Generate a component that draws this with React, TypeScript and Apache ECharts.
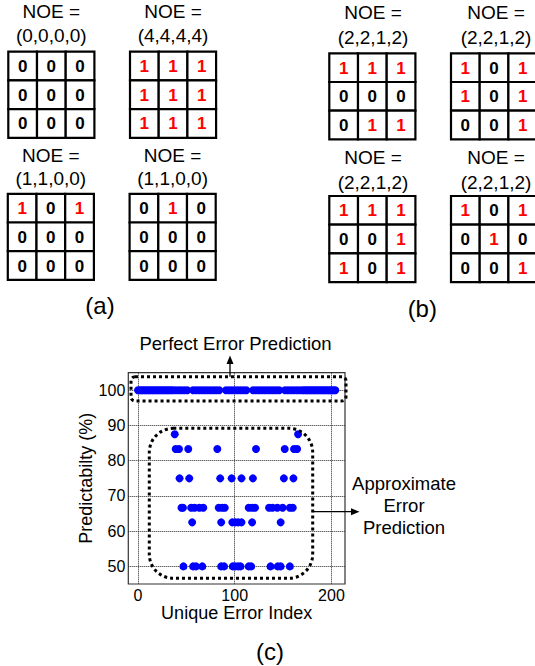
import React, { useEffect, useRef } from 'react';
import * as echarts from 'echarts';

const FONT = '"Liberation Sans", Arial, Helvetica, sans-serif';

// ---------- Panels (a) and (b): NOE grids ----------
const noeTitle = 'NOE =';
const noeLabels = ['(0,0,0,0)', '(4,4,4,4)', '(1,1,0,0)', '(1,1,0,0)', '(2,2,1,2)', '(2,2,1,2)', '(2,2,1,2)', '(2,2,1,2)'];
const matrixA1 = [[0, 0, 0], [0, 0, 0], [0, 0, 0]];
const matrixA2 = [[1, 1, 1], [1, 1, 1], [1, 1, 1]];
const matrixA3 = [[1, 0, 1], [0, 0, 0], [0, 0, 0]];
const matrixA4 = [[0, 1, 0], [0, 0, 0], [0, 0, 0]];
const matrixB1 = [[1, 1, 1], [0, 0, 0], [0, 1, 1]];
const matrixB2 = [[1, 0, 1], [1, 0, 1], [0, 0, 1]];
const matrixB3 = [[1, 1, 1], [0, 0, 1], [1, 0, 1]];
const matrixB4 = [[1, 0, 1], [0, 1, 0], [0, 0, 1]];
const matrices = [matrixA1, matrixA2, matrixA3, matrixA4, matrixB1, matrixB2, matrixB3, matrixB4];
const panelLetters = ['(a)', '(b)', '(c)'];

// ---------- Panel (c): scatter ----------
const perfectX = [0, 2, 4, 6, 8, 10, 12, 14, 16, 18, 20, 22, 24, 26, 28, 30, 32, 34, 36, 39, 42, 45, 48, 51, 57, 60, 63, 66, 69, 72, 75, 78, 81, 84, 91, 94, 97, 100, 103, 106, 109, 112, 119, 122, 125, 128, 131, 134, 137, 140, 143, 146, 152, 155, 158, 161, 164, 167, 170, 172, 174, 176, 178, 180, 182, 184, 186, 188, 190, 192, 194, 196, 198, 200, 202, 204];
const perfectY = 100;
const row875X = [38, 165.5];
const row875Y = 87.5;
const row833X = [39, 42.4, 52, 82, 122, 151.7, 161.3, 164.5];
const row833Y = 83.33;
const row75X = [43, 53, 85, 96.8, 107, 118.8, 150.8, 160.7];
const row75Y = 75;
const row667X = [45, 46.5, 55, 58.5, 63.5, 67.5, 83.5, 87, 89.7, 114.5, 118, 121, 135.5, 139, 144, 149.5, 157, 160];
const row667Y = 66.67;
const row625X = [56, 86, 97.5, 100.5, 103.5, 107, 118, 147.5];
const row625Y = 62.5;
const row50X = [47, 57, 60, 66.5, 86, 89, 98, 100.5, 103.5, 106, 114.5, 117, 137, 144.5, 147.5, 157];
const row50Y = 50;
const xTicks = [0, 100, 200];
const yTicks = [50, 60, 70, 80, 90, 100];
const xRange = [-10, 214];
const yRange = [45, 105];
const xName = 'Unique Error Index';
const yName = 'Predictabilty (%)';
const perfectLabel = 'Perfect Error Prediction';
const approxLabel = 'Approximate\nError\nPrediction';

// layout
const panelPos = [
  { left: 8.3, top: 51.7, t1: 11.7, t2: 35, cx: 51.3 },
  { left: 130, top: 51.7, t1: 11.7, t2: 35, cx: 173 },
  { left: 7.8, top: 193.8, t1: 155, t2: 178.3, cx: 50.8 },
  { left: 129.6, top: 193.8, t1: 155, t2: 178.3, cx: 172.6 },
  { left: 329.3, top: 53.3, t1: 12.3, t2: 37.7, cx: 373 },
  { left: 451, top: 53.3, t1: 12.3, t2: 37.7, cx: 496 },
  { left: 329.3, top: 196, t1: 157.3, t2: 182.7, cx: 373 },
  { left: 451, top: 196, t1: 157.3, t2: 182.7, cx: 496 },
];
const CELL = 28.7;
const letterPos = [
  { x: 100, y: 305.7 },
  { x: 422.3, y: 308.3 },
  { x: 270, y: 651 },
];

function txt(text: string, x: number, y: number, fontSize: number, extra: any = {}) {
  return {
    type: 'text',
    x,
    y,
    z: 100,
    style: {
      text,
      fontSize,
      fontFamily: FONT,
      fill: '#000',
      align: 'center',
      verticalAlign: 'middle',
      textAlign: 'center',
      textVerticalAlign: 'middle',
      ...extra,
    },
  };
}

export default function App() {
  const ref = useRef<HTMLDivElement>(null);
  useEffect(() => {
    if (!ref.current) return;
    const chart = echarts.init(ref.current, undefined, { renderer: 'svg' });

    const graphics: any[] = [];
    panelPos.forEach((p, i) => {
      graphics.push(txt(noeTitle, p.cx, p.t1, 19));
      graphics.push(txt(noeLabels[i], p.cx, p.t2, 19));
      const m = matrices[i];
      for (let r = 0; r < 3; r++) {
        for (let c = 0; c < 3; c++) {
          graphics.push({
            type: 'rect',
            z: 99,
            shape: { x: p.left + c * CELL, y: p.top + r * CELL, width: CELL, height: CELL },
            style: { fill: '#fff', stroke: '#000', lineWidth: 2.2 },
          });
          const v = m[r][c];
          graphics.push(
            txt(String(v), p.left + c * CELL + CELL / 2, p.top + r * CELL + CELL / 2 + 0.5, 17, {
              fontWeight: 'bold',
              fill: v ? '#ff0000' : '#000',
            })
          );
        }
      }
    });
    panelLetters.forEach((l, i) => graphics.push(txt(l, letterPos[i].x, letterPos[i].y, 24)));

    // annotations in panel (c)
    const dotted = { stroke: '#000', lineWidth: 3, lineDash: [3, 3], fill: 'none' };
    graphics.push({ type: 'rect', z: 100, shape: { x: 131, y: 376.7, width: 215, height: 24.3, r: 4 }, style: dotted });
    graphics.push({ type: 'rect', z: 100, shape: { x: 149.3, y: 428.3, width: 163.4, height: 150, r: 24 }, style: dotted });
    graphics.push({ type: 'line', z: 100, shape: { x1: 230, y1: 376.7, x2: 230, y2: 362 }, style: { stroke: '#000', lineWidth: 1.3 } });
    graphics.push({ type: 'polygon', z: 100, shape: { points: [[230, 355.5], [226.5, 364], [233.5, 364]] }, style: { fill: '#000' } });
    graphics.push({ type: 'line', z: 100, shape: { x1: 312.7, y1: 511.7, x2: 352, y2: 511.7 }, style: { stroke: '#000', lineWidth: 1.3 } });
    graphics.push({ type: 'polygon', z: 100, shape: { points: [[359.5, 511.7], [351, 508.2], [351, 515.2]] }, style: { fill: '#000' } });
    graphics.push(txt(perfectLabel, 235.5, 343.5, 18.5));
    graphics.push(txt(approxLabel, 404, 505, 18.5, { lineHeight: 22 }));

    const rows: [number[], number][] = [
      [perfectX, perfectY],
      [row875X, row875Y],
      [row833X, row833Y],
      [row75X, row75Y],
      [row667X, row667Y],
      [row625X, row625Y],
      [row50X, row50Y],
    ];
    const points: number[][] = [];
    rows.forEach(([xs, y]) => xs.forEach((x) => points.push([x, y])));

    const gridLine = { show: true, lineStyle: { type: 'dotted', color: '#222', width: 1 } };

    chart.setOption({
      animation: false,
      backgroundColor: '#fff',
      grid: {
        left: 128.3,
        top: 372.7,
        width: 216.7,
        height: 211.3,
        show: true,
        borderColor: '#333',
        borderWidth: 1.2,
        backgroundColor: 'transparent',
      },
      xAxis: {
        type: 'value',
        min: xRange[0],
        max: xRange[1],
        name: xName,
        nameLocation: 'middle',
        nameGap: 18,
        nameTextStyle: { fontSize: 18, color: '#000', fontFamily: FONT },
        axisLine: { show: false },
        axisTick: { show: false, customValues: xTicks },
        axisLabel: { customValues: xTicks, fontSize: 16, color: '#000', fontFamily: FONT, margin: 3 },
        splitLine: gridLine,
      },
      yAxis: {
        type: 'value',
        min: yRange[0],
        max: yRange[1],
        name: yName,
        nameLocation: 'middle',
        nameGap: 31,
        nameTextStyle: { fontSize: 18, color: '#000', fontFamily: FONT },
        axisLine: { show: false },
        axisTick: { show: false, customValues: yTicks },
        axisLabel: { customValues: yTicks, fontSize: 16, color: '#000', fontFamily: FONT, margin: 3 },
        splitLine: gridLine,
      },
      series: [
        {
          type: 'scatter',
          data: points,
          symbol: 'circle',
          symbolSize: 8,
          itemStyle: { color: '#0000ff', opacity: 1 },
          z: 5,
        },
      ],
      graphic: graphics,
    });
    return () => chart.dispose();
  }, []);
  return (
    <div
      ref={ref}
      style={{ position: 'fixed', left: 0, top: 0, width: 535, height: 666, background: '#fff' }}
    />
  );
}
